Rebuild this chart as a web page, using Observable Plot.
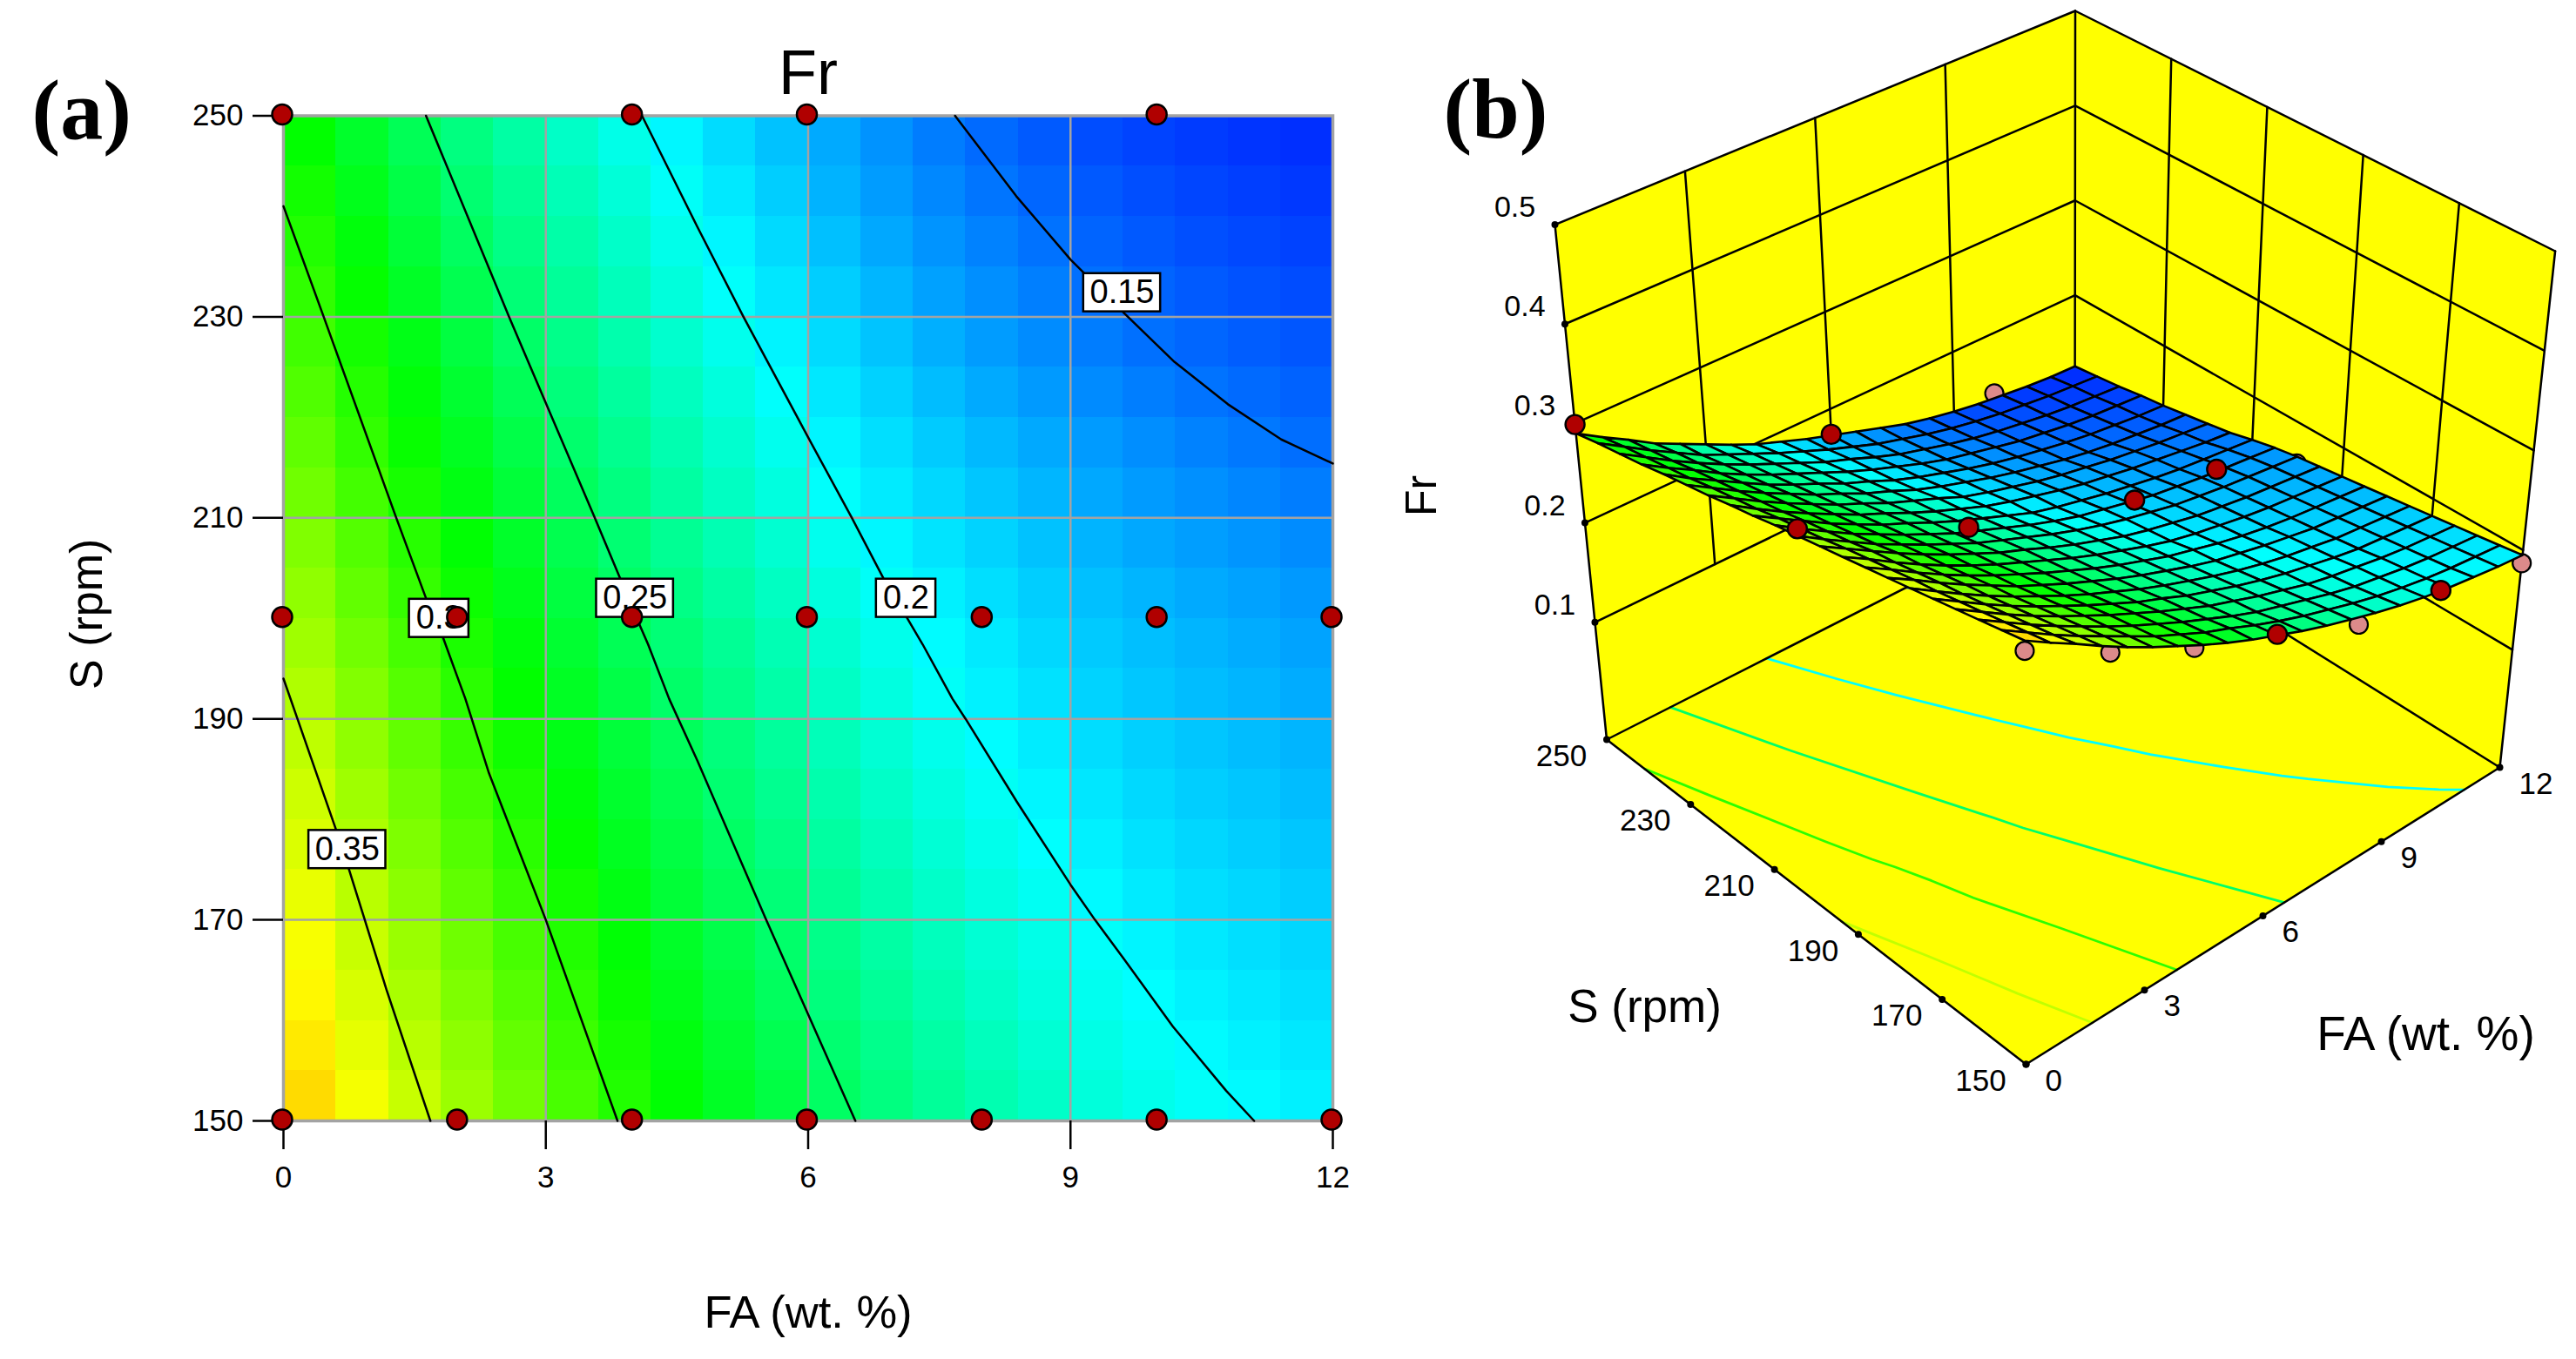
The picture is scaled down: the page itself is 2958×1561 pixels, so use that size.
<!DOCTYPE html>
<html>
<head>
<meta charset="utf-8">
<script src="https://cdn.jsdelivr.net/npm/d3@7"></script>
<script src="https://cdn.jsdelivr.net/npm/@observablehq/plot@0.6"></script>
<style>
html,body{margin:0;padding:0;background:#fff;}
#wrap{display:flex;width:2958px;height:1561px;overflow:hidden;}
svg{display:block;flex:none;overflow:visible;}
</style>
</head>
<body>
<div id="wrap"></div>
<script>
// ---------- data ----------
const faGrid = [0,0.6,1.2,1.8,2.4,3,3.6,4.2,4.8,5.4,6,6.6,7.2,7.8,8.4,9,9.6,10.2,10.8,11.4,12];
const sGrid = [150,155,160,165,170,175,180,185,190,195,200,205,210,215,220,225,230,235,240,245,250];
// Fr at each (S row, FA column)
const frGrid = [
[.394,.378,.363,.347,.332,.318,.305,.292,.280,.269,.259,.249,.240,.232,.224,.217,.211,.206,.202,.198,.195],
[.389,.373,.357,.342,.328,.314,.300,.288,.276,.266,.255,.245,.236,.228,.220,.213,.207,.202,.198,.195,.192],
[.384,.368,.352,.337,.323,.309,.296,.284,.272,.261,.250,.240,.232,.224,.216,.209,.204,.199,.195,.192,.189],
[.379,.363,.347,.332,.318,.305,.292,.280,.268,.257,.246,.237,.228,.220,.212,.206,.201,.196,.192,.189,.186],
[.374,.358,.342,.327,.313,.300,.287,.275,.263,.253,.242,.233,.224,.216,.209,.203,.197,.192,.189,.186,.183],
[.369,.353,.337,.322,.308,.295,.282,.270,.259,.248,.238,.229,.220,.212,.205,.199,.194,.189,.186,.183,.180],
[.364,.349,.333,.318,.304,.290,.278,.266,.255,.244,.234,.225,.216,.208,.202,.196,.191,.186,.183,.180,.177],
[.359,.344,.328,.313,.299,.286,.274,.262,.251,.240,.230,.221,.212,.205,.198,.192,.187,.183,.180,.177,.174],
[.354,.339,.323,.308,.294,.281,.269,.258,.247,.236,.226,.217,.208,.200,.194,.189,.184,.180,.177,.174,.171],
[.349,.334,.319,.304,.290,.277,.265,.253,.243,.232,.222,.213,.204,.197,.191,.185,.181,.177,.174,.171,.168],
[.344,.328,.313,.298,.285,.272,.260,.248,.238,.228,.218,.209,.201,.194,.188,.182,.178,.174,.171,.168,.165],
[.339,.323,.308,.293,.280,.267,.255,.243,.233,.223,.213,.204,.196,.190,.184,.178,.174,.170,.167,.164,.161],
[.333,.318,.303,.288,.275,.262,.251,.239,.228,.218,.208,.198,.191,.185,.179,.174,.169,.165,.162,.159,.156],
[.328,.312,.297,.283,.270,.257,.246,.234,.223,.213,.203,.195,.188,.181,.175,.170,.165,.161,.157,.153,.150],
[.322,.307,.292,.278,.265,.252,.241,.229,.219,.209,.198,.190,.183,.176,.170,.165,.160,.156,.152,.149,.146],
[.317,.302,.287,.273,.260,.247,.236,.224,.214,.203,.194,.186,.178,.171,.165,.159,.154,.150,.147,.144,.142],
[.312,.296,.282,.268,.254,.242,.231,.219,.209,.198,.189,.181,.173,.166,.160,.155,.150,.146,.143,.140,.138],
[.306,.291,.277,.262,.249,.237,.226,.215,.204,.194,.185,.176,.168,.162,.156,.150,.146,.142,.139,.137,.135],
[.301,.286,.271,.257,.244,.232,.221,.210,.199,.190,.180,.171,.164,.157,.151,.146,.142,.138,.135,.133,.131],
[.296,.281,.266,.252,.238,.227,.216,.205,.195,.185,.176,.167,.160,.153,.147,.142,.138,.135,.132,.130,.128],
[.290,.275,.261,.246,.234,.222,.210,.199,.190,.181,.173,.165,.157,.149,.143,.138,.134,.131,.128,.126,.125]
];
// contour lines as [FA, S]
const contour035 = [[0,194],[.16,190],[.6,179],[.75,175],[.93,170],[1.18,163],[1.68,150]];
const contour030 = [[0,241],[.46,230],[1.29,210],[1.63,202],[1.82,198.2],[2.08,192],[2.35,184.6],[3,170],[3.82,150]];
const contour025 = [[1.63,250],[2.58,230],[3.56,210],[4.08,199.2],[4.17,197.4],[4.41,192],[4.73,185.9],[5.52,170],[6.54,150]];
const contour020 = [[4.1,250],[4.73,239],[5.26,230],[6,218],[6.5,210],[6.86,204],[7.12,200.2],[7.31,197.4],[7.65,192],[7.8,190],[8.39,181.7],[9,173.5],[9.28,170],[9.62,166],[10.17,159.4],[10.78,153],[11.1,150]];
const contour015 = [[7.68,250],[8.38,242],[9,235.7],[9.61,230.4],[10.19,225.5],[10.8,221.3],[11.41,217.8],[12,215.4]];
const contourLevels = [0.35,0.30,0.25,0.20,0.15];
const contourLines = [contour035,contour030,contour025,contour020,contour015];
// label boxes on the contours
const labelText = ["0.35","0.3","0.25","0.2","0.15"];
const labelFA = [.73,1.78,4.02,7.12,9.59];
const labelS = [177,200,202,202,232.4];
// design points
const pointFA = [0,4,6,10,0,2,4,6,8,10,12,0,2,4,6,8,10,12];
const pointS = [250,250,250,250,200,200,200,200,200,200,200,150,150,150,150,150,150,150];
const pointFr = [.299,.190,.174,.137,.351,.295,.268,.205,.209,.1965,.158,.384,.336,.294,.260,.222,.208,.187];
const pointAbove = [1,0,1,0,1,0,1,0,1,1,0,0,0,0,1,0,1,0];
// tick labels
const faTicks = [0,3,6,9,12];
const sTicks = [150,170,190,210,230,250];
const frTicks = [0.1,0.2,0.3,0.4,0.5];
// colour ramp
const rampValues = [.111,.2,.285,.371,.46];
const rampColors = ["#0000ff","#00ffff","#00ff00","#ffff00","#ff0000"];
const colorScale = {type:"linear",domain:rampValues,range:rampColors,interpolate:"rgb",clamp:true};

const FONT = "'Liberation Sans',Arial,sans-serif";
const SERIF = "'Liberation Serif','Times New Roman',serif";

// cells of the 20 x 20 mesh
const cells = [];
for (let j = 0; j < 20; j++) for (let i = 0; i < 20; i++) {
  const v = (frGrid[j][i]+frGrid[j][i+1]+frGrid[j+1][i]+frGrid[j+1][i+1])/4;
  cells.push({i,j,fa1:faGrid[i],fa2:faGrid[i+1],s1:sGrid[j],s2:sGrid[j+1],v});
}
const points = pointFA.map((fa,k)=>({fa,s:pointS[k],fr:pointFr[k],above:pointAbove[k]}));
const labels = labelText.map((text,k)=>({text,fa:labelFA[k],s:labelS[k],half:text.length>3?0.44:0.34}));
const contourRows = contourLines.flatMap((line,k)=>line.map(([fa,s])=>({fa,s,level:contourLevels[k]})));

// ---------- panel (a) ----------
const plotA = Plot.plot({
  width:1620,height:1561,
  marginLeft:325,marginRight:90,marginTop:132.5,marginBottom:274,
  x:{domain:[0,12]},y:{domain:[150,250]},
  color:colorScale,
  style:{fontFamily:FONT,background:"transparent",overflow:"visible"},
  marks:[
    Plot.rect(cells,{x1:"fa1",x2:"fa2",y1:"s1",y2:"s2",fill:"v",shapeRendering:"crispEdges"}),
    Plot.ruleX([3,6,9],{stroke:"#a3a3a3",strokeWidth:2.5}),
    Plot.ruleY([170,190,210,230],{stroke:"#a3a3a3",strokeWidth:2.5}),
    Plot.frame({stroke:"#a3a3a3",strokeWidth:3.5}),
    Plot.axisX({ticks:faTicks,tickSize:33,tickPadding:19,fontSize:35,strokeWidth:2.5,stroke:"#000",tickFormat:d=>d,label:null,color:"#000"}),
    Plot.axisY({ticks:sTicks,tickSize:35,tickPadding:11,fontSize:35,strokeWidth:2.5,stroke:"#000",tickFormat:d=>d,label:null,color:"#000"}),
    Plot.line(contourRows,{x:"fa",y:"s",z:"level",stroke:"#000",strokeWidth:2.5,curve:"linear"}),
    Plot.rect(labels,{x1:d=>d.fa-d.half,x2:d=>d.fa+d.half,y1:d=>d.s-1.9,y2:d=>d.s+1.9,fill:"#fff",stroke:"#000",strokeWidth:2.5}),
    Plot.text(labels,{x:"fa",y:"s",text:"text",fontSize:38,fill:"#000"}),
    Plot.dot(points,{x:"fa",y:"s",r:11.5,fill:"#b00000",stroke:"#000",strokeWidth:2.5,dx:-1.5,dy:-1.5}),
    Plot.text(["Fr"],{frameAnchor:"top",lineAnchor:"bottom",dy:-25,fontSize:72,fill:"#000"}),
    Plot.text(["FA (wt. %)"],{frameAnchor:"bottom",lineAnchor:"middle",dy:221,fontSize:52.5,fill:"#000"}),
    Plot.text(["S (rpm)"],{frameAnchor:"left",textAnchor:"middle",rotate:-90,dx:-225,dy:-5,fontSize:52,fill:"#000"}),
    Plot.text(["(a)"],{frameAnchor:"top-left",textAnchor:"start",lineAnchor:"bottom",dx:-289,dy:25.5,fontSize:98,fontWeight:"bold",fontFamily:SERIF,fill:"#000"})
  ]
});

// ---------- panel (b) ----------
const floorFr = -0.018, topFr = 0.5;
// screen positions of the eight box corners: [FA end, S end]
const floorCorners = {a:[2326,1222],b:[2870,881],c:[1844.5,849],d:[2382,576]};
const topCorners = {a:[2324,610],b:[2933.6,288],c:[1785,257.6],d:[2382.5,12]};
function bilinear(c,u,v){
  return [0,1].map(k=>(1-u)*(1-v)*c.a[k]+u*(1-v)*c.b[k]+(1-u)*v*c.c[k]+u*v*c.d[k]);
}
function project(fa,s,fr){
  const u=fa/12,v=(s-150)/100,w=(fr-floorFr)/(topFr-floorFr);
  const f=bilinear(floorCorners,u,v),t=bilinear(topCorners,u,v);
  return [f[0]+(t[0]-f[0])*w,f[1]+(t[1]-f[1])*w];
}
const px=d=>project(d.fa,d.s,d.fr)[0];
const py=d=>project(d.fa,d.s,d.fr)[1];
const P=(fa,s,fr,key)=>({fa,s,fr,key});

const wallA=[[0,250,floorFr],[0,250,topFr],[12,250,topFr],[12,250,floorFr]].map(a=>P(...a,"wallA"));
const wallB=[[12,250,floorFr],[12,250,topFr],[12,150,topFr],[12,150,floorFr]].map(a=>P(...a,"wallB"));
const floorPoly=[[0,150],[12,150],[12,250],[0,250],[0,150]].map(a=>P(a[0],a[1],floorFr,"floor"));

const seg=(key,a,b)=>[P(...a,key),P(...b,key)];
const gridLines=[];
frTicks.forEach(z=>{
  gridLines.push(...seg("zA"+z,[0,250,z],[12,250,z]));
  gridLines.push(...seg("zB"+z,[12,250,z],[12,150,z]));
});
[3,6,9].forEach(fa=>gridLines.push(...seg("vA"+fa,[fa,250,0.1],[fa,250,topFr])));
[170,190,210,230].forEach(s=>gridLines.push(...seg("vB"+s,[12,s,0.1],[12,s,topFr])));
[[0,250],[12,250],[12,150]].forEach(([fa,s])=>gridLines.push(...seg("c"+fa+s,[fa,s,floorFr],[fa,s,topFr])));
const floorEdges=floorPoly.map(d=>({...d,key:"edge"}));

const floorContours=contourLines.flatMap((line,k)=>line.map(([fa,s])=>({fa,s,fr:floorFr,level:contourLevels[k]})));

// surface quads, back corner first
const quads=[];
for(let j=19;j>=0;j--)for(let i=19;i>=0;i--){
  const v=cells[j*20+i].v,key=j*100+i;
  [[i,j],[i+1,j],[i+1,j+1],[i,j+1],[i,j]].forEach(([a,b])=>{
    quads.push({fa:faGrid[a],s:sGrid[b],fr:frGrid[b][a],key,v});
  });
}
const zTicks=frTicks.map(z=>({fa:0,s:250,fr:z}));
const sAxis=sTicks.map(s=>({fa:0,s,fr:floorFr}));
const faAxis=faTicks.map(fa=>({fa,s:150,fr:floorFr}));
const tickDots=[...zTicks,...sAxis,...faAxis];
const pinkPts=points.filter(d=>!d.above),redPts=points.filter(d=>d.above);

const plotB = Plot.plot({
  width:1338,height:1561,margin:0,
  x:{domain:[1620,2958],range:[0,1338],axis:null},
  y:{domain:[0,1561],range:[0,1561],axis:null},
  color:colorScale,
  style:{fontFamily:FONT,background:"transparent",overflow:"visible"},
  marks:[
    Plot.line([...wallA,...wallB,...floorPoly],{x:px,y:py,z:"key",fill:"#ffff00",stroke:"none",curve:"linear"}),
    Plot.line(floorContours,{x:px,y:py,z:"level",stroke:"level",strokeWidth:2.8,curve:"linear"}),
    Plot.line(gridLines,{x:px,y:py,z:"key",stroke:"#000",strokeWidth:2.5,curve:"linear"}),
    Plot.line(floorEdges,{x:px,y:py,z:"key",stroke:"#000",strokeWidth:2.5,curve:"linear"}),
    Plot.dot(tickDots,{x:px,y:py,r:4,fill:"#000"}),
    Plot.dot(pinkPts,{x:px,y:py,r:10.5,fill:"#dc8a8a",stroke:"#000",strokeWidth:2.2}),
    Plot.line(quads,{x:px,y:py,z:"key",fill:"v",stroke:"#000",strokeWidth:2.6,curve:"linear"}),
    Plot.dot(redPts,{x:px,y:py,r:11,fill:"#b00000",stroke:"#000",strokeWidth:2.4}),
    Plot.text(zTicks,{x:px,y:py,text:d=>d.fr.toFixed(1),dx:-46,dy:-20,fontSize:34,fill:"#000"}),
    Plot.text(sAxis,{x:px,y:py,text:d=>d.s,dx:-52,dy:19,fontSize:35,fill:"#000"}),
    Plot.text(faAxis,{x:px,y:py,text:d=>d.fa,textAnchor:"start",dx:22,dy:19,fontSize:35,fill:"#000"}),
    Plot.text(["S (rpm)"],{x:()=>1888,y:()=>1173,lineAnchor:"bottom",fontSize:53,fill:"#000"}),
    Plot.text(["FA (wt. %)"],{x:()=>2785,y:()=>1205,lineAnchor:"bottom",fontSize:55,fill:"#000"}),
    Plot.text(["Fr"],{x:()=>1632,y:()=>569,rotate:-90,fontSize:50,fill:"#000"}),
    Plot.text(["(b)"],{x:()=>1657,y:()=>157,textAnchor:"start",lineAnchor:"bottom",fontSize:98,fontWeight:"bold",fontFamily:SERIF,fill:"#000"})
  ]
});

const wrap=document.getElementById("wrap");
wrap.append(plotA,plotB);
</script>
</body>
</html>
